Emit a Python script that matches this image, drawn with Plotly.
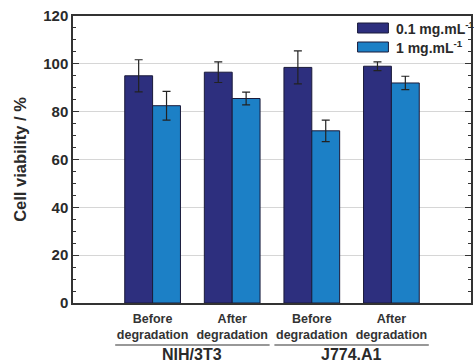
import plotly.graph_objects as go

categories = ["Before<br>degradation", "After<br>degradation", "Before<br>degradation", "After<br>degradation"]
cell_lines = ["NIH/3T3", "J774.A1"]
low_conc = [95.0, 96.5, 98.5, 99.0]
low_err = [6.7, 4.3, 6.9, 1.8]
high_conc = [82.5, 85.5, 72.0, 92.0]
high_err = [6.0, 2.7, 4.5, 2.8]
series_names = ["0.1 mg.mL<sup>-1</sup>", "1 mg.mL<sup>-1</sup>"]
y_ticks = [0, 20, 40, 60, 80, 100, 120]

FONT = "Liberation Sans, Arial, sans-serif"
DARK = "#2d2f7e"
LIGHT = "#1c80c6"
TXT = "#2a2a2a"

xpos = list(range(len(categories)))

fig = go.Figure()
for name, vals, errs, col in [(series_names[0], low_conc, low_err, DARK),
                              (series_names[1], high_conc, high_err, LIGHT)]:
    fig.add_trace(go.Bar(
        x=xpos, y=vals, name=name,
        marker=dict(color=col, line=dict(color="#1a1a3a", width=1)),
        error_y=dict(type="data", array=errs, color="#222222", thickness=1.2, width=4),
        showlegend=False,
    ))

# custom legend (wide swatches)
L, R, T, B = 73, 473, 16, 303
def px(x):
    return (x - L) / (R - L)
def py(y):
    return (B - y) / (B - T)

for i, (name, col) in enumerate([(series_names[0], DARK), (series_names[1], LIGHT)]):
    y0 = 23 + i * 19
    fig.add_shape(type="rect", xref="paper", yref="paper",
                  x0=px(359), x1=px(390), y0=py(y0 + 10), y1=py(y0),
                  fillcolor=col, line=dict(color="#1a1a3a", width=1))
    fig.add_annotation(xref="paper", yref="paper", x=px(396), y=py(y0 + 5),
                       text="<b>" + name + "</b>", showarrow=False,
                       xanchor="left", yanchor="middle",
                       font=dict(family=FONT, size=14, color=TXT))

# group labels and underlines
for g, label in enumerate(cell_lines):
    a, b = 2 * g, 2 * g + 1
    fig.add_shape(type="line", xref="x", yref="paper",
                  x0=a - 0.47, x1=b + 0.47, y0=py(345), y1=py(345),
                  line=dict(color="#333333", width=1.2))
    fig.add_annotation(xref="x", yref="paper", x=(a + b) / 2, y=py(365),
                       text="<b>" + label + "</b>", showarrow=False,
                       xanchor="center", yanchor="bottom",
                       font=dict(family=FONT, size=16, color=TXT))

fig.update_layout(
    width=474, height=364,
    margin=dict(l=L, r=474 - R, t=T, b=364 - B),
    paper_bgcolor="white", plot_bgcolor="white",
    barmode="group", bargap=0.3, bargroupgap=0,
    font=dict(family=FONT, color=TXT),
    xaxis=dict(
        range=[-1, 4], tickvals=xpos, ticktext=["<b>" + c + "</b>" for c in categories],
        tickfont=dict(family=FONT, size=12.5, color="#333333"),
        ticks="outside", ticklen=3, tickcolor="rgba(0,0,0,0)",
        showline=True, linecolor="#333333", linewidth=1.5, mirror=True,
        showgrid=False, zeroline=False,
    ),
    yaxis=dict(
        range=[0, 120], tickvals=y_ticks, ticktext=["<b>%d</b>" % v for v in y_ticks],
        tickfont=dict(family=FONT, size=15, color=TXT),
        ticks="inside", ticklen=6, tickcolor="#333333", tickwidth=1.2,
        minor=dict(dtick=5, ticks="inside", ticklen=3, tickcolor="#333333", showgrid=False),
        showline=True, linecolor="#333333", linewidth=1.5, mirror="ticks",
        showgrid=True, gridcolor="#d6d6d6", gridwidth=1, zeroline=False,
        title=dict(text="<b>Cell viability / %</b>", font=dict(family=FONT, size=16.5, color=TXT), standoff=12),
    ),
)

fig.write_html("out.html", config={"displayModeBar": False},
               post_script="document.body.style.margin='0';document.body.style.overflow='hidden';")
